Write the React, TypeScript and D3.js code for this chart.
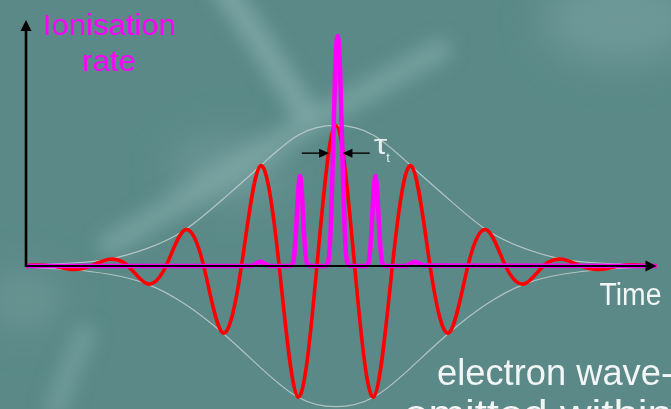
import React from 'react';
import * as d3 from 'd3';

const W = 671;
const H = 409;

// Time in half-cycles of the laser field, centred on the pulse maximum
const timeDomain: [number, number] = [-8.21, 8.5];
// Field / rate values in units of the peak field amplitude
const valueDomain: [number, number] = [-1, 1.75];

// Electric field (red): extrema and zero crossings
const fieldT = [-8.21, -8, -7.5, -7, -6.5, -6, -5.5, -5, -4.5, -4, -3.5, -3, -2.5, -2, -1.5, -1, -0.5, 0, 0.5, 1, 1.5, 2, 2.5, 3, 3.5, 4, 4.5, 5, 5.5, 6, 6.5, 7, 7.5, 8, 8.5];
const fieldV = [0.005, 0.008, 0, -0.024, 0, 0.048, 0, -0.126, 0, 0.257, 0, -0.474, 0, 0.712, 0, -0.931, 0, 1.0, 0, -0.931, 0, 0.712, 0, -0.474, 0, 0.257, 0, -0.126, 0, 0.048, 0, -0.024, 0, 0.008, 0];

// Envelope (white): upper and lower magnitudes
const envT = [-8.21, -8, -7, -6, -5, -4, -3, -2, -1, 0, 1, 2, 3, 4, 5, 6, 7, 8, 8.5];
const envUpperV = [0.004, 0.008, 0.022, 0.05, 0.126, 0.257, 0.474, 0.712, 0.931, 1.0, 0.931, 0.712, 0.474, 0.257, 0.126, 0.05, 0.022, 0.008, 0.004];
const envLowerV = [0.005, 0.01, 0.026, 0.058, 0.128, 0.27, 0.476, 0.72, 0.933, 1.0, 0.933, 0.72, 0.476, 0.27, 0.128, 0.058, 0.026, 0.01, 0.005];

// Ionisation rate (magenta): spikes at field extrema
const rateT = [-8.21, -2.35, -2.2, -2.1, -2, -1.9, -1.8, -1.65,
  -1.3, -1.25, -1.2, -1.15, -1.1, -1.05, -1, -0.95, -0.9, -0.85, -0.8, -0.75, -0.7,
  -0.4, -0.35, -0.3, -0.25, -0.2, -0.15, -0.1, -0.05, 0, 0.05, 0.1, 0.15, 0.2, 0.25, 0.3, 0.35, 0.4,
  0.7, 0.75, 0.8, 0.85, 0.9, 0.95, 1, 1.05, 1.1, 1.15, 1.2, 1.25, 1.3,
  1.65, 1.8, 1.9, 2, 2.1, 2.2, 2.35, 8.5];
const rateV = [0, 0, 0.004, 0.02, 0.03, 0.02, 0.004, 0,
  0, 0, 0.002, 0.012, 0.08, 0.27, 0.52, 0.643, 0.52, 0.27, 0.08, 0.012, 0.002, 0, 0,
  0, 0.004, 0.03, 0.18, 0.55, 1.05, 1.5, 1.636, 1.5, 1.05, 0.55, 0.18, 0.03, 0.004, 0, 0,
  0, 0.002, 0.012, 0.08, 0.27, 0.52, 0.643, 0.52, 0.27, 0.08, 0.012, 0.002, 0,
  0, 0.004, 0.02, 0.03, 0.02, 0.004, 0, 0];

// tunnelling-time annotation (half-cycles)
const tauInner = 0.177;
const tauOuter = 0.9;
const tauLevel = 0.803;

const FONT = '"Liberation Sans", Arial, Helvetica, sans-serif';

export default function App() {
  const x = d3.scaleLinear().domain(timeDomain).range([26, 656.5]);
  const y = d3.scaleLinear().domain(valueDomain).range([406.7, 20]);

  const natural = d3
    .line<[number, number]>()
    .x((d) => x(d[0]))
    .y((d) => y(d[1]))
    .curve(d3.curveNatural);
  const catmull = d3
    .line<[number, number]>()
    .x((d) => x(d[0]))
    .y((d) => y(d[1]))
    .curve(d3.curveMonotoneX);

  const fieldPath = natural(fieldT.map((t, i) => [t, fieldV[i]]));
  const envUp = natural(envT.map((t, i) => [t, envUpperV[i]]));
  const envLo = natural(envT.map((t, i) => [t, -envLowerV[i]]));
  const ratePath = catmull(rateT.map((t, i) => [t, rateV[i]]));

  const x0 = x(timeDomain[0]);
  const x1 = x(timeDomain[1]);
  const y0 = y(0);
  const yTop = y(valueDomain[1]);
  const ty = y(tauLevel);
  const c = x(0);

  return (
    <div style={{ position: 'fixed', left: 0, top: 0, width: W, height: H }}>
      <svg width={W} height={H} viewBox={`0 0 ${W} ${H}`} style={{ display: 'block' }}>
        <defs>
          <filter id="soft" x="-50%" y="-50%" width="200%" height="200%">
            <feGaussianBlur stdDeviation="9" />
          </filter>
          <filter id="soft2" x="-50%" y="-50%" width="200%" height="200%">
            <feGaussianBlur stdDeviation="20" />
          </filter>
        </defs>
        <rect x={0} y={0} width={W} height={H} fill="#5a8987" />
        {/* background texture */}
        <g filter="url(#soft2)" opacity={0.55}>
          <ellipse cx={620} cy={20} rx={80} ry={45} fill="#7ea6a5" />
          <ellipse cx={25} cy={300} rx={40} ry={30} fill="#789f9e" />
          <ellipse cx={230} cy={170} rx={60} ry={35} fill="#7ba3a2" />
        </g>
        <g filter="url(#soft)" fill="none" strokeLinecap="round">
          <path d="M225,-10 L262,45 L305,112" stroke="#86adac" strokeWidth={26} opacity={0.7} />
          <path d="M440,50 L360,95 L290,135 L200,190 L110,245" stroke="#86adac" strokeWidth={24} opacity={0.6} />
          <path d="M55,409 L70,370 L85,335" stroke="#80a8a7" strokeWidth={22} opacity={0.55} />
        </g>

        {/* envelope */}
        <path d={envUp ?? ''} fill="none" stroke="#c9d3d2" strokeWidth={1.2} opacity={0.8} />
        <path d={envLo ?? ''} fill="none" stroke="#c9d3d2" strokeWidth={1.2} opacity={0.8} />

        {/* field */}
        <path d={fieldPath ?? ''} fill="none" stroke="#ff0000" strokeWidth={3.6} strokeLinejoin="round" />

        {/* ionisation rate */}
        <path d={ratePath ?? ''} fill="none" stroke="#ff00ff" strokeWidth={4.5} strokeLinejoin="round" />

        {/* axes */}
        <line x1={x0} y1={y0} x2={x1 - 10} y2={y0} stroke="#000" strokeWidth={2} />
        <polygon points={`${x1},${y0} ${x1 - 11},${y0 - 5.5} ${x1 - 11},${y0 + 5.5}`} fill="#000" />
        <line x1={x0} y1={y0 + 1} x2={x0} y2={yTop + 9} stroke="#000" strokeWidth={2.6} />
        <polygon points={`${x0},${yTop} ${x0 - 5.5},${yTop + 11} ${x0 + 5.5},${yTop + 11}`} fill="#000" />

        {/* tau_t annotation */}
        <line x1={x(-tauOuter)} y1={ty} x2={x(-tauInner) - 9} y2={ty} stroke="#111" strokeWidth={1.6} />
        <polygon
          points={`${x(-tauInner)},${ty} ${x(-tauInner) - 10},${ty - 4.5} ${x(-tauInner) - 10},${ty + 4.5}`}
          fill="#000"
        />
        <line x1={x(tauOuter)} y1={ty} x2={x(tauInner) + 9} y2={ty} stroke="#111" strokeWidth={1.6} />
        <polygon
          points={`${x(tauInner)},${ty} ${x(tauInner) + 10},${ty - 4.5} ${x(tauInner) + 10},${ty + 4.5}`}
          fill="#000"
        />
        <text x={c + 38} y={ty + 0.5} fontFamily={FONT} fontSize={28} fill="#e6eeee" textLength={13.5} lengthAdjust="spacingAndGlyphs">
          τ
        </text>
        <text x={c + 50.5} y={ty + 8.5} fontFamily={FONT} fontSize={13} fill="#e6eeee">
          t
        </text>

        {/* labels */}
        <text x={109.3} y={35} textAnchor="middle" fontFamily={FONT} fontSize={30} fill="#ff00ff" textLength={133} lengthAdjust="spacingAndGlyphs">
          Ionisation
        </text>
        <text x={109} y={71} textAnchor="middle" fontFamily={FONT} fontSize={30} fill="#ff00ff" textLength={54} lengthAdjust="spacingAndGlyphs">
          rate
        </text>
        <text x={599.5} y={305} fontFamily={FONT} fontSize={31} fill="#f2f6f6" textLength={62} lengthAdjust="spacingAndGlyphs">
          Time
        </text>
        <text x={437} y={385} fontFamily={FONT} fontSize={36} fill="#f2f6f6" textLength={236} lengthAdjust="spacingAndGlyphs">
          electron wave-
        </text>
        <text x={404} y={426} fontFamily={FONT} fontSize={36} fill="#f2f6f6" textLength={268} lengthAdjust="spacingAndGlyphs">
          emitted within
        </text>
      </svg>
    </div>
  );
}
